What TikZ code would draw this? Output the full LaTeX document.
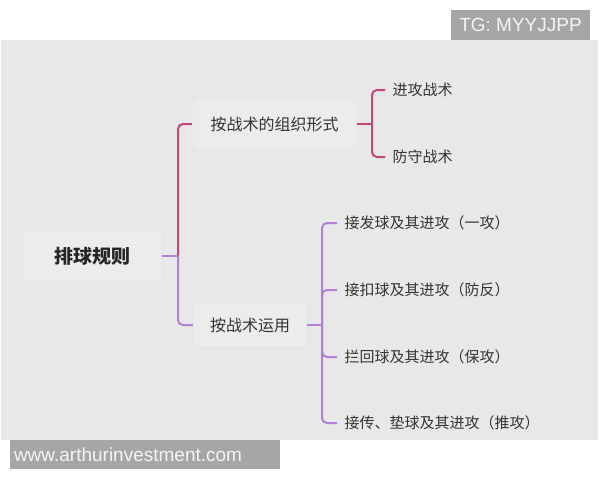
\documentclass[tikz,border=0pt]{standalone}
\usepackage{fontspec}
\setmainfont{Liberation Sans}
\newfontfamily\cjk{Noto Sans CJK SC}
\definecolor{bg}{HTML}{E8E8E8}
\definecolor{boxfill}{HTML}{ECECEC}
\definecolor{boxline}{HTML}{DDDDDD}
\definecolor{pinkline}{HTML}{C2487C}
\definecolor{purpline}{HTML}{B47FD6}
\definecolor{txt}{HTML}{333333}
\definecolor{wmark}{HTML}{A6A6A6}
\begin{document}
\begin{tikzpicture}[x=1pt,y=-1pt,
  topicbox/.style={draw=boxline,fill=boxfill,rounded corners=4pt,inner sep=0pt,text=txt},
  leaf/.style={anchor=west,inner xsep=7.5pt,inner ysep=2pt,text=txt,font=\cjk\fontsize{15pt}{18pt}\selectfont},
  pinkconn/.style={draw=pinkline,line width=2pt,rounded corners=5pt},
  purpconn/.style={draw=purpline,line width=2pt,rounded corners=5pt},
  wmbox/.style={fill=wmark,text=white!96!black,inner sep=0pt,font=\fontsize{19pt}{22pt}\selectfont}]
\useasboundingbox (0,0) rectangle (600,480);
\fill[white] (0,0) rectangle (600,480);
\fill[bg] (1,40) rectangle (598,440);
% watermarks
\node[wmbox,minimum width=139pt,minimum height=30pt] (tg) at (520.5,25) {TG: MYYJJPP};
\node[wmbox,minimum width=270pt,minimum height=29pt,text width=262pt,align=left] (web) at (145,454.5) {www.arthurinvestment.com};
% topics
\node[topicbox,minimum width=139pt,minimum height=52pt,font=\cjk\bfseries\fontsize{19pt}{22pt}\selectfont,text=black!85] (root) at (92.5,256) {排球规则};
\node[topicbox,minimum width=165pt,minimum height=48pt,font=\cjk\fontsize{16pt}{19pt}\selectfont] (b1) at (274.5,124) {按战术的组织形式};
\node[topicbox,minimum width=114pt,minimum height=44pt,font=\cjk\fontsize{16pt}{19pt}\selectfont] (b2) at (250,325) {按战术运用};
% leaves
\node[leaf] (l1) at (385,90) {进攻战术};
\node[leaf] (l2) at (385,157) {防守战术};
\node[leaf] (m1) at (337,223) {接发球及其进攻（一攻）};
\node[leaf] (m2) at (337,290) {接扣球及其进攻（防反）};
\node[leaf] (m3) at (337,357) {拦回球及其进攻（保攻）};
\node[leaf] (m4) at (337,423) {接传、垫球及其进攻（推攻）};
% junction coordinates
\coordinate (j0) at (178,256);
\coordinate (j1) at (372,124);
\coordinate (j2) at (322,325);
% connectors
\draw[pinkconn] (j0) |- (b1.west);
\draw[purpconn] (j0) |- (b2.west);
\draw[purpconn] (root.east) -- (j0);
\draw[pinkconn] (b1.east) -- (j1);
\draw[pinkconn] (j1) |- (l1.west);
\draw[pinkconn] (j1) |- (l2.west);
\draw[purpconn] (b2.east) -- (j2);
\draw[purpconn] (j2) |- (m1.west);
\draw[purpconn] (j2) |- (m2.west);
\draw[purpconn] (j2) |- (m3.west);
\draw[purpconn] (j2) |- (m4.west);
\end{tikzpicture}
\end{document}
